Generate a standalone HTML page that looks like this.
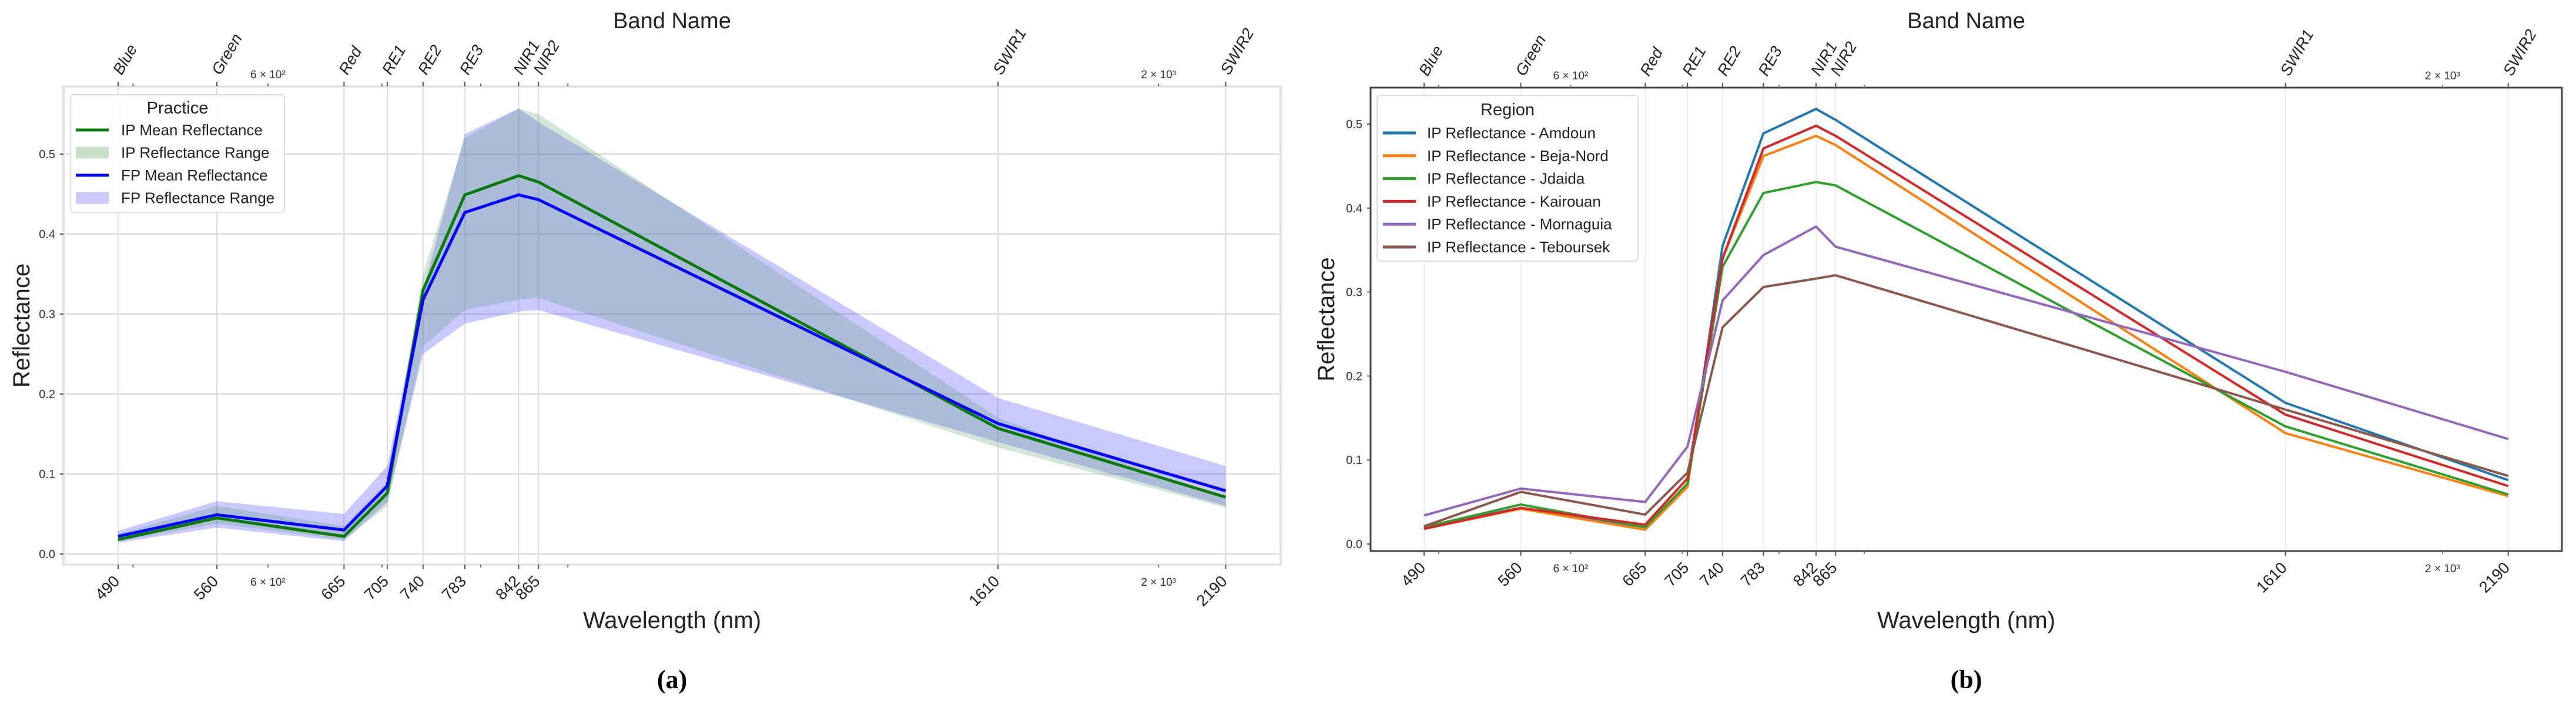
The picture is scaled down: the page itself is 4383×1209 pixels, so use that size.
<!DOCTYPE html>
<html><head><meta charset="utf-8"><style>
html,body{margin:0;padding:0;background:#fff;}
svg{display:block;font-family:"Liberation Sans",sans-serif;}
</style></head><body>
<svg id="fig" width="4383" height="1209" viewBox="0 0 4383 1209" xmlns="http://www.w3.org/2000/svg"></svg>
<script>
const wavelengths=[490,560,665,705,740,783,842,865,1610,2190];
const bandNames=["Blue","Green","Red","RE1","RE2","RE3","NIR1","NIR2","SWIR1","SWIR2"];
const yTicks=[0,0.1,0.2,0.3,0.4,0.5];
const yTickLabels=["0.0","0.1","0.2","0.3","0.4","0.5"];
const ipMean=[0.018,0.045,0.022,0.076,0.33,0.449,0.473,0.465,0.157,0.071];
const fpMean=[0.022,0.049,0.030,0.085,0.318,0.427,0.449,0.443,0.163,0.079];
const ipUpper=[0.025,0.060,0.035,0.090,0.350,0.520,0.557,0.550,0.170,0.068];
const ipLower=[0.016,0.038,0.018,0.060,0.260,0.305,0.318,0.320,0.133,0.058];
const fpUpper=[0.029,0.066,0.050,0.110,0.330,0.525,0.557,0.540,0.195,0.110];
const fpLower=[0.014,0.033,0.016,0.065,0.250,0.288,0.303,0.305,0.140,0.060];
const regions=["Amdoun","Beja-Nord","Jdaida","Kairouan","Mornaguia","Teboursek"];
const amdoun=[0.020,0.043,0.020,0.070,0.355,0.489,0.518,0.505,0.168,0.076];
const bejaNord=[0.018,0.042,0.017,0.068,0.340,0.462,0.486,0.475,0.132,0.057];
const jdaida=[0.020,0.047,0.020,0.072,0.330,0.418,0.431,0.427,0.140,0.059];
const kairouan=[0.018,0.043,0.023,0.078,0.340,0.471,0.498,0.486,0.154,0.069];
const mornaguia=[0.034,0.066,0.050,0.116,0.290,0.344,0.378,0.354,0.205,0.125];
const teboursek=[0.021,0.062,0.035,0.085,0.258,0.306,0.316,0.320,0.160,0.081];
const minorTicks=[500,600,700,800,900,2000];

const NS="http://www.w3.org/2000/svg";
const svg=document.getElementById('fig');
function el(tag,attrs,parent,text){const e=document.createElementNS(NS,tag);for(const k in attrs)e.setAttribute(k,attrs[k]);if(text!==undefined)e.textContent=text;(parent||svg).appendChild(e);return e;}

function panel(cfg){
  const g=el('g',{},svg);
  
  
  const L=cfg.left,R=cfg.right,T=cfg.top,B=cfg.bottom;
  const xs=w=>cfg.x490+(Math.log10(w)-Math.log10(490))*cfg.pxDec;
  const ys=v=>cfg.y0-v*cfg.pxUnit;
  if(cfg.hgrid){yTicks.forEach(t=>{const l=el('line',{x1:L,x2:R,y1:ys(t),y2:ys(t),stroke:'#e0e0e0','stroke-width':3},g);
    });}
  wavelengths.forEach(w=>{const l=el('line',{x1:xs(w),x2:xs(w),y1:T,y2:B,stroke:cfg.vgridColor,'stroke-width':2},g);
    });
  const fr=el('rect',{x:L,y:T,width:R-L,height:B-T,fill:'none',stroke:cfg.frame,'stroke-width':cfg.frameW},g);
  
  wavelengths.forEach((w,i)=>{
    el('line',{x1:xs(w),x2:xs(w),y1:B,y2:B+8,stroke:'#555','stroke-width':2},g);
    el('line',{x1:xs(w),x2:xs(w),y1:T,y2:T-8,stroke:'#555','stroke-width':2},g);
    const x=xs(w);
    const t=el('text',{x:x+4,y:B+30,'font-size':27,'text-anchor':'end',fill:'#222',transform:`rotate(-45 ${x+4} ${B+30})`},g,String(w));
    
    const bt=el('text',{x:x+6,y:T-18,'font-size':27,'font-style':'italic','text-anchor':'start',fill:'#222',transform:`rotate(-60 ${x+6} ${T-18})`},g,bandNames[i]);
    
  });
  minorTicks.forEach(w=>{el('line',{x1:xs(w),x2:xs(w),y1:B,y2:B+5,stroke:'#777','stroke-width':2},g);
    el('line',{x1:xs(w),x2:xs(w),y1:T,y2:T-5,stroke:'#777','stroke-width':2},g);});
  [[600,"6 × 10²"],[2000,"2 × 10³"]].forEach(([w,s])=>{
    const a=el('text',{x:xs(w),y:B+36,'font-size':19,'text-anchor':'middle',fill:'#333'},g,s);
    
    const b=el('text',{x:xs(w),y:T-14,'font-size':19,'text-anchor':'middle',fill:'#333'},g,s);
    
  });
  yTicks.forEach((t,i)=>{
    el('line',{x1:L-6,x2:L,y1:ys(t),y2:ys(t),stroke:'#555','stroke-width':2},g);
    const tl=el('text',{x:L-14,y:ys(t)+7,'font-size':20,'text-anchor':'end',fill:'#333'},g,yTickLabels[i]);
    
  });
  const cx=(L+R)/2;
  const bn=el('text',{x:cx,y:48,'font-size':38,'text-anchor':'middle',fill:'#222'},g,'Band Name');
  
  const wl=el('text',{x:cx,y:1068,'font-size':40,'text-anchor':'middle',fill:'#222'},g,'Wavelength (nm)');
  
  const yl=el('text',{x:cfg.ylabX,y:(T+B)/2,'font-size':40,'text-anchor':'middle',fill:'#222',transform:`rotate(-90 ${cfg.ylabX} ${(T+B)/2})`},g,'Reflectance');
  
  const cap=el('text',{x:cx,y:1170,'font-size':44,'font-weight':'bold','text-anchor':'middle','font-family':'Liberation Serif, serif',fill:'#000'},g,cfg.caption);
  
  return {g,xs,ys};
}
function linePts(xs,ys,vals){return wavelengths.map((w,i)=>xs(w)+','+ys(vals[i])).join(' ');}
function bandPts(xs,ys,up,lo){const a=wavelengths.map((w,i)=>xs(w)+','+ys(up[i]));const b=wavelengths.map((w,i)=>xs(w)+','+ys(lo[i])).reverse();return a.concat(b).join(' ');}

const A=panel({name:'panel-a',left:108,right:2179,top:147,bottom:960,x490:201,pxDec:2898,y0:942,pxUnit:1360,hgrid:true,vgridColor:'#dcdcdc',frame:'#e3e3e3',frameW:4,ylabX:50,caption:'(a)'});
const fpBand=el('polygon',{points:bandPts(A.xs,A.ys,fpUpper,fpLower),fill:'rgba(60,60,255,0.28)'},A.g);

const ipBand=el('polygon',{points:bandPts(A.xs,A.ys,ipUpper,ipLower),fill:'rgba(80,150,100,0.25)'},A.g);

const ipLine=el('polyline',{points:linePts(A.xs,A.ys,ipMean),fill:'none',stroke:'#0a7a0a','stroke-width':5},A.g);

const fpLine=el('polyline',{points:linePts(A.xs,A.ys,fpMean),fill:'none',stroke:'#0000ff','stroke-width':5},A.g);

const legA=el('g',{},A.g);

el('rect',{x:120,y:161,width:364,height:200,rx:6,fill:'rgba(255,255,255,0.9)',stroke:'#ddd','stroke-width':2},legA);
el('text',{x:302,y:193,'font-size':29,'text-anchor':'middle',fill:'#222'},legA,'Practice');
const legItemsA=[['IP Mean Reflectance','line','#0a7a0a'],['IP Reflectance Range','rect','rgba(100,170,100,0.35)'],['FP Mean Reflectance','line','#0000ff'],['FP Reflectance Range','rect','rgba(60,60,255,0.28)']];
legItemsA.forEach((it,i)=>{const y=221+i*38.5;
  const e=el('g',{},legA);
  if(it[1]==='line')el('line',{x1:129,x2:185,y1:y,y2:y,stroke:it[2],'stroke-width':5},e);
  else el('rect',{x:129,y:y-10,width:56,height:20,fill:it[2]},e);
  el('text',{x:206,y:y+9,'font-size':26,fill:'#222'},e,it[0]);});

const B=panel({name:'panel-b',left:2332,right:4359,top:149,bottom:937,x490:2423,pxDec:2837,y0:925,pxUnit:1428,hgrid:false,vgridColor:'#ececec',frame:'#444',frameW:3,ylabX:2270,caption:'(b)'});
const seriesB=[amdoun,bejaNord,jdaida,kairouan,mornaguia,teboursek];
const colorsB=['#1f77b4','#ff7f0e','#2ca02c','#d62728','#9467bd','#8c564b'];
seriesB.forEach((s,i)=>{const p=el('polyline',{points:linePts(B.xs,B.ys,s),fill:'none',stroke:colorsB[i],'stroke-width':4},B.g);
  });
const legB=el('g',{},B.g);

el('rect',{x:2343,y:162,width:444,height:282,rx:6,fill:'rgba(255,255,255,0.9)',stroke:'#ddd','stroke-width':2},legB);
el('text',{x:2565,y:196,'font-size':29,'text-anchor':'middle',fill:'#222'},legB,'Region');
regions.forEach((r,i)=>{const y=226+i*38.8;
  const e=el('g',{},legB);
  el('line',{x1:2353,x2:2409,y1:y,y2:y,stroke:colorsB[i],'stroke-width':5},e);
  el('text',{x:2428,y:y+9,'font-size':26,fill:'#222'},e,'IP Reflectance - '+r);});
</script>
</body></html>
